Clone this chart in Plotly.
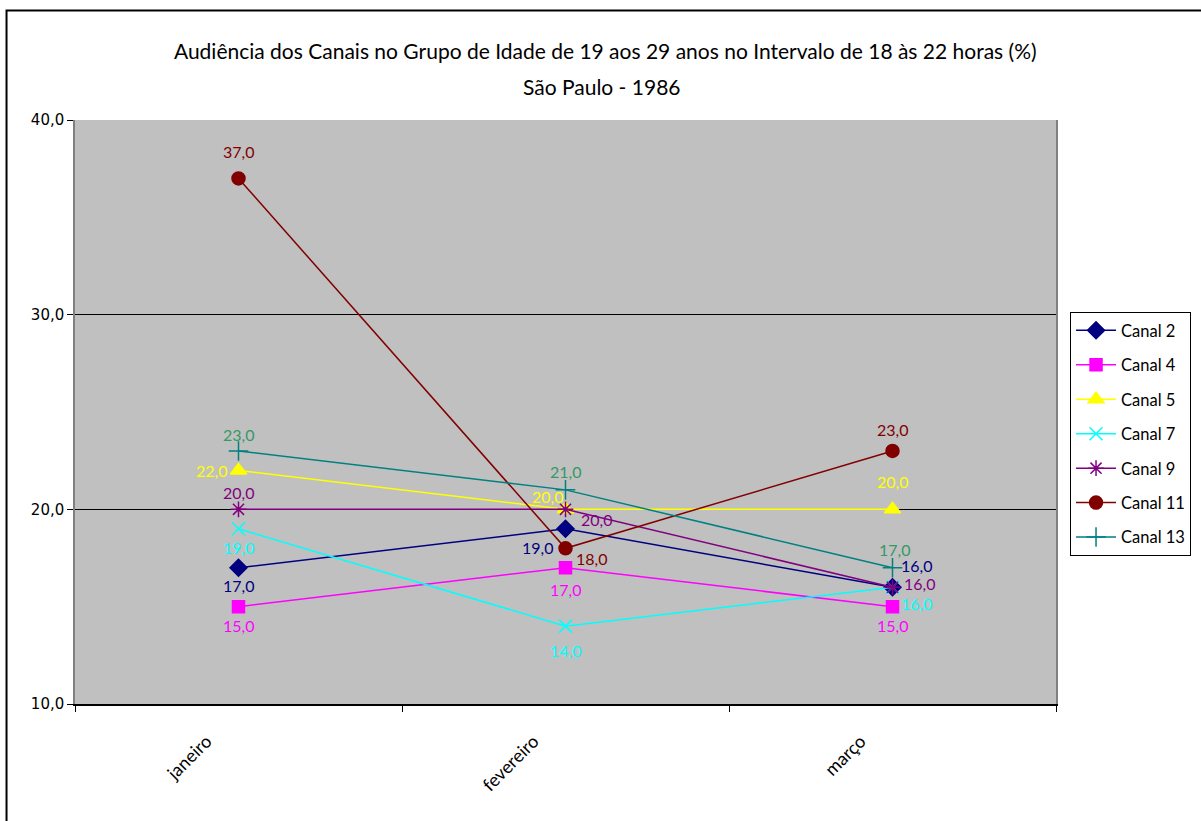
import plotly.graph_objects as go

meses = ["janeiro", "fevereiro", "março"]
canal_2 = [17.0, 19.0, 16.0]
canal_4 = [15.0, 17.0, 15.0]
canal_5 = [22.0, 20.0, 20.0]
canal_7 = [19.0, 14.0, 16.0]
canal_9 = [20.0, 20.0, 16.0]
canal_11 = [37.0, 18.0, 23.0]
canal_13 = [23.0, 21.0, 17.0]

titulo = "Audiência dos Canais no Grupo de Idade de 19 aos 29 anos no Intervalo de 18 às 22 horas (%)"
subtitulo = "São Paulo - 1986"

FONT = "Lato"

series = [
    ("Canal 2", canal_2, "#000080", "#000080", "diamond", 13, [(0, 18), (-28, 19), (24, -22)]),
    ("Canal 4", canal_4, "#FF00FF", "#FF00FF", "square", 12, [(0, 19), (0, 22), (0, 19)]),
    ("Canal 5", canal_5, "#FFFF00", "#FFFF00", "triangle-up", 14, [(-27, 0), (-18, -13), (0, -28)]),
    ("Canal 7", canal_7, "#00FFFF", "#00FFFF", "x-thin-open", 13, [(0, 19), (0, 24), (24, 16)]),
    ("Canal 9", canal_9, "#800080", "#800080", "asterisk-open", 13, [(0, -17), (31, 10), (27, -4)]),
    ("Canal 11", canal_11, "#800000", "#800000", "circle", 13, [(0, -27), (26, 10), (0, -21)]),
    ("Canal 13", canal_13, "#008080", "#339966", "cross-thin-open", 14, [(0, -16), (0, -18), (2, -18)]),
]

fig = go.Figure()
annotations = []
for i, (name, vals, color, lblcolor, sym, size, offs) in enumerate(series):
    fig.add_trace(go.Scatter(
        x=meses, y=vals, name=name, mode="lines+markers",
        line=dict(color=color, width=1.5),
        marker=dict(symbol=sym, size=size, color=color,
                    line=dict(color=color, width=1.5)),
        legendgroup=name,
    ))
    for m, v, (dx, dy) in zip(meses, vals, offs):
        annotations.append(dict(
            x=m, y=v, xref="x", yref="y", text=f"{v:.1f}".replace(".", ","),
            showarrow=False, xshift=dx, yshift=-dy,
            font=dict(family=FONT, size=16, color=lblcolor),
        ))

annotations.append(dict(
    x=0.5375, y=1.0582, xref="paper", yref="paper", text=subtitulo,
    showarrow=False, xanchor="center", yanchor="middle",
    font=dict(family=FONT, size=21, color="black"),
))

fig.update_layout(
    width=1201, height=821,
    margin=dict(l=75, r=145, t=120, b=117, autoexpand=False),
    paper_bgcolor="white",
    plot_bgcolor="#C0C0C0",
    separators=",.",
    title=dict(
        text=titulo,
        x=0.504, xanchor="center", y=0.9367, yanchor="middle",
        font=dict(family=FONT, size=21, color="black"),
    ),
    showlegend=True,
    legend=dict(
        x=1.0143, xanchor="left", y=0.671, yanchor="top",
        bgcolor="white", bordercolor="black", borderwidth=1,
        font=dict(family=FONT, size=16.5, color="black"),
        tracegroupgap=10, itemwidth=40,
    ),
    annotations=annotations,
    shapes=[dict(type="rect", xref="paper", yref="paper",
                 x0=-0.0698, x1=1.3, y0=-0.4, y1=1.1875,
                 line=dict(color="black", width=2), fillcolor="rgba(0,0,0,0)",
                 layer="below")],
)

fig.update_xaxes(
    type="category", range=[-0.5, 2.5],
    tickson="boundaries", ticks="outside", ticklen=6, tickcolor="black",
    showline=True, linecolor="black", linewidth=1.5, mirror=False,
    showgrid=False, tickangle=-45,
    ticklabelstandoff=18, ticklabelshift=-32,
    tickfont=dict(family=FONT, size=18, color="black"),
)
fig.update_yaxes(
    range=[10, 40], dtick=10, tickformat=".1f",
    ticks="outside", ticklen=6, tickcolor="black",
    showline=True, linecolor="#808080", linewidth=1.5, mirror=True,
    showgrid=True, gridcolor="black", gridwidth=1, zeroline=False,
    tickfont=dict(family="DejaVu Sans", size=15, color="black"),
)

fig.write_html("out.html", config={"displayModeBar": False},
               post_script="document.body.style.margin='0';")
